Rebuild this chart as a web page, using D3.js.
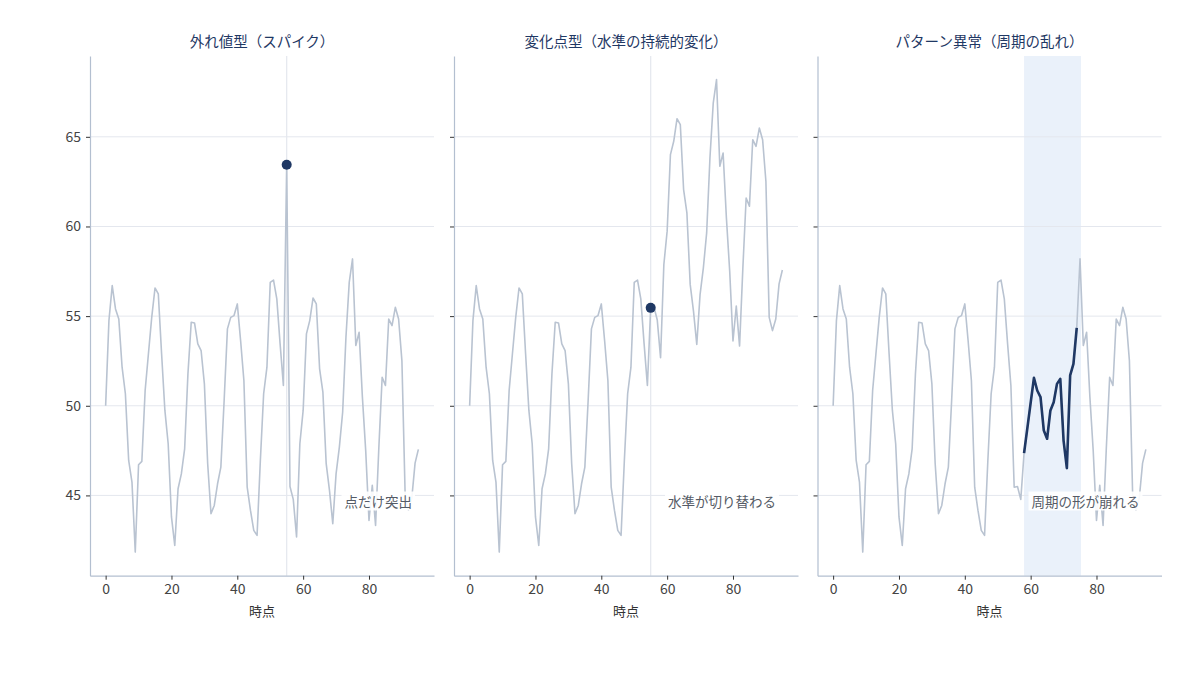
<!DOCTYPE html>
<html>
<head>
<meta charset="utf-8">
<script src="https://cdn.jsdelivr.net/npm/d3@7"></script>
<style>
  html, body { margin: 0; padding: 0; background: #ffffff; }
  svg { display: block; font-family: "Noto Sans CJK JP", "DejaVu Sans", sans-serif; }
</style>
</head>
<body>
<svg id="chart" width="1200" height="675"></svg>
<script>
// ---- data ----
const baseValues = [
  50.0, 54.75, 56.7, 55.4, 54.84, 52.15, 50.67, 46.95, 45.74, 41.84,
  46.71, 46.9, 50.85, 52.9, 54.93, 56.57, 56.24, 52.9, 49.74, 47.88,
  43.8, 42.21, 45.37, 46.2, 47.6, 51.78, 54.66, 54.62, 53.45, 53.08,
  51.22, 46.77, 43.98, 44.44, 45.65, 46.58, 50.29, 54.29, 54.93, 55.03,
  55.68, 53.64, 51.41, 45.46, 44.16, 43.05, 42.77, 46.95, 50.67, 52.15,
  56.88, 57.01, 55.96, 53.45, 51.13, 45.46, 45.5, 44.78, 42.68, 47.88,
  49.74, 54.01, 54.75, 56.01, 55.68, 52.06, 50.76, 46.77, 45.28, 43.42,
  46.2, 47.69, 49.64, 53.82, 56.88, 58.19, 53.36, 54.1, 50.48, 47.51,
  43.61, 45.56, 43.33, 47.69, 51.59, 51.13, 54.84, 54.47, 55.49, 54.84,
  52.52, 44.93, 44.19, 44.84, 46.8, 47.57
];

// Panel 1: single spike
const spikeIndex = 55;
const spikeValue = 63.44;

// Panel 2: level shift from index 55 onward (values read after the shift)
const shiftStart = 55;
const shiftedTail = [
  55.46, 55.5, 54.78, 52.68, 57.88, 59.74, 64.01, 64.75, 66.01, 65.68,
  62.06, 60.76, 56.77, 55.28, 53.42, 56.2, 57.69, 59.64, 63.82, 66.88,
  68.19, 63.36, 64.1, 60.48, 57.51, 53.61, 55.56, 53.33, 57.69, 61.59,
  61.13, 64.84, 64.47, 65.49, 64.84, 62.52, 54.93, 54.19, 54.84, 56.8,
  57.57
];

// Panel 3: disturbed pattern over indices 58..74
const patternStart = 58;
const patternValues = [
  47.36, 48.75, 50.16, 51.56, 50.85, 50.48, 48.62, 48.16, 49.74, 50.2,
  51.22, 51.5, 48.06, 46.52, 51.69, 52.34, 54.34
];
const patternBand = [58, 75.3];

const panelTitles = ["外れ値型（スパイク）", "変化点型（水準の持続的変化）", "パターン異常（周期の乱れ）"];
const panelNotes = ["点だけ突出", "水準が切り替わる", "周期の形が崩れる"];
const xTicks = [0, 20, 40, 60, 80];
const yTicks = [45, 50, 55, 60, 65];
const xLabel = "時点";

// ---- build series ----
const idx = baseValues.map((_, i) => i);
const series1 = baseValues.map((v, i) => i === spikeIndex ? spikeValue : v);
const series2 = baseValues.map((v, i) => i >= shiftStart ? shiftedTail[i - shiftStart] : v);
const series3 = baseValues.map((v, i) =>
  (i >= patternStart && i < patternStart + patternValues.length) ? patternValues[i - patternStart] : v);

const panels = [
  { values: series1, marker: spikeIndex, vline: spikeIndex },
  { values: series2, marker: shiftStart, vline: shiftStart },
  { values: series3, band: patternBand, highlight: [patternStart, patternStart + patternValues.length - 1] }
];

// ---- styling ----
const C = {
  line: "#b9c3d1",
  dark: "#1f3864",
  grid: "#e4e7ee",
  spine: "#b3bfd0",
  band: "#eaf1fa",
  tick: "#333333",
  tickText: "#444444",
  note: "#555b66"
};

const svg = d3.select("#chart");
const lefts = [90, 454, 817.5];
const W = 344, plotTop = 56, plotBottom = 575.7;

const allVals = series1.concat(series2, series3);
const yMin = d3.min(allVals), yMax = d3.max(allVals);
const yPad = (yMax - yMin) * 0.05;
const y = d3.scaleLinear().domain([yMin - yPad, yMax + yPad]).range([plotBottom, plotTop]);
const xPad = (idx.length - 1) * 0.05;

panels.forEach((p, pi) => {
  const L = lefts[pi];
  const x = d3.scaleLinear().domain([-xPad, idx.length - 1 + xPad]).range([L, L + W]);
  const g = svg.append("g");
  const clipId = "clip" + pi;
  svg.append("clipPath").attr("id", clipId).append("rect")
    .attr("x", L).attr("y", plotTop).attr("width", W).attr("height", plotBottom - plotTop);

  // band
  if (p.band) {
    g.append("rect")
      .attr("x", x(p.band[0])).attr("y", plotTop)
      .attr("width", x(p.band[1]) - x(p.band[0])).attr("height", plotBottom - plotTop)
      .attr("fill", C.band);
  }
  // grid
  g.selectAll(".hg").data(yTicks).enter().append("line")
    .attr("x1", L).attr("x2", L + W)
    .attr("y1", d => y(d)).attr("y2", d => y(d))
    .attr("stroke", C.grid).attr("stroke-width", 1);
  if (p.vline !== undefined) {
    g.append("line")
      .attr("x1", x(p.vline)).attr("x2", x(p.vline))
      .attr("y1", plotTop).attr("y2", plotBottom)
      .attr("stroke", C.grid).attr("stroke-width", 1.2);
  }

  // series line
  const lineGen = d3.line().x((d, i) => x(i)).y(d => y(d));
  g.append("path").datum(p.values)
    .attr("clip-path", `url(#${clipId})`)
    .attr("fill", "none").attr("stroke", C.line).attr("stroke-width", 1.6)
    .attr("stroke-linejoin", "round")
    .attr("d", lineGen);

  if (p.highlight) {
    const seg = d3.range(p.highlight[0], p.highlight[1] + 1);
    g.append("path").datum(seg)
      .attr("fill", "none").attr("stroke", C.dark).attr("stroke-width", 2.6)
      .attr("stroke-linejoin", "round")
      .attr("d", d3.line().x(i => x(i)).y(i => y(p.values[i])));
  }
  if (p.marker !== undefined) {
    g.append("circle")
      .attr("cx", x(p.marker)).attr("cy", y(p.values[p.marker]))
      .attr("r", 5).attr("fill", C.dark);
  }

  // note with white box
  const note = g.append("text")
    .attr("x", L + W - 22).attr("y", 501)
    .attr("text-anchor", "end").attr("dominant-baseline", "central")
    .attr("font-size", 13.5).attr("fill", C.note)
    .text(panelNotes[pi]);
  const bb = note.node().getBBox();
  g.insert("rect", () => note.node())
    .attr("x", bb.x - 3).attr("y", 491.5)
    .attr("width", bb.width + 6).attr("height", 19)
    .attr("fill", "#ffffff").attr("fill-opacity", 0.9);

  // axes
  const xAxis = d3.axisBottom(x).tickValues(xTicks).tickSize(4).tickSizeOuter(0).tickPadding(4);
  const xg = svg.append("g").attr("transform", `translate(0,${plotBottom})`).call(xAxis);
  xg.select(".domain").attr("stroke", C.spine).attr("stroke-width", 1.2);
  xg.selectAll(".tick line").attr("stroke", C.tick);
  xg.selectAll(".tick text").attr("fill", C.tickText).attr("font-size", 14)
    .attr("font-family", "Noto Sans CJK JP, sans-serif");

  const yAxis = d3.axisLeft(y).tickValues(yTicks).tickSize(4).tickSizeOuter(0).tickPadding(5)
    .tickFormat(pi === 0 ? d3.format("d") : () => "");
  const yg = svg.append("g").attr("transform", `translate(${L},0)`).call(yAxis);
  yg.select(".domain").attr("stroke", C.spine).attr("stroke-width", 1.2);
  yg.selectAll(".tick line").attr("stroke", C.tick);
  yg.selectAll(".tick text").attr("fill", C.tickText).attr("font-size", 14)
    .attr("font-family", "Noto Sans CJK JP, sans-serif");

  // title & xlabel
  svg.append("text")
    .attr("x", L + W / 2).attr("y", 47)
    .attr("text-anchor", "middle").attr("font-size", 14.5).attr("fill", C.dark)
    .text(panelTitles[pi]);
  svg.append("text")
    .attr("x", L + W / 2).attr("y", 616)
    .attr("text-anchor", "middle").attr("font-size", 13).attr("fill", "#333333")
    .text(xLabel);
});
</script>
</body>
</html>
